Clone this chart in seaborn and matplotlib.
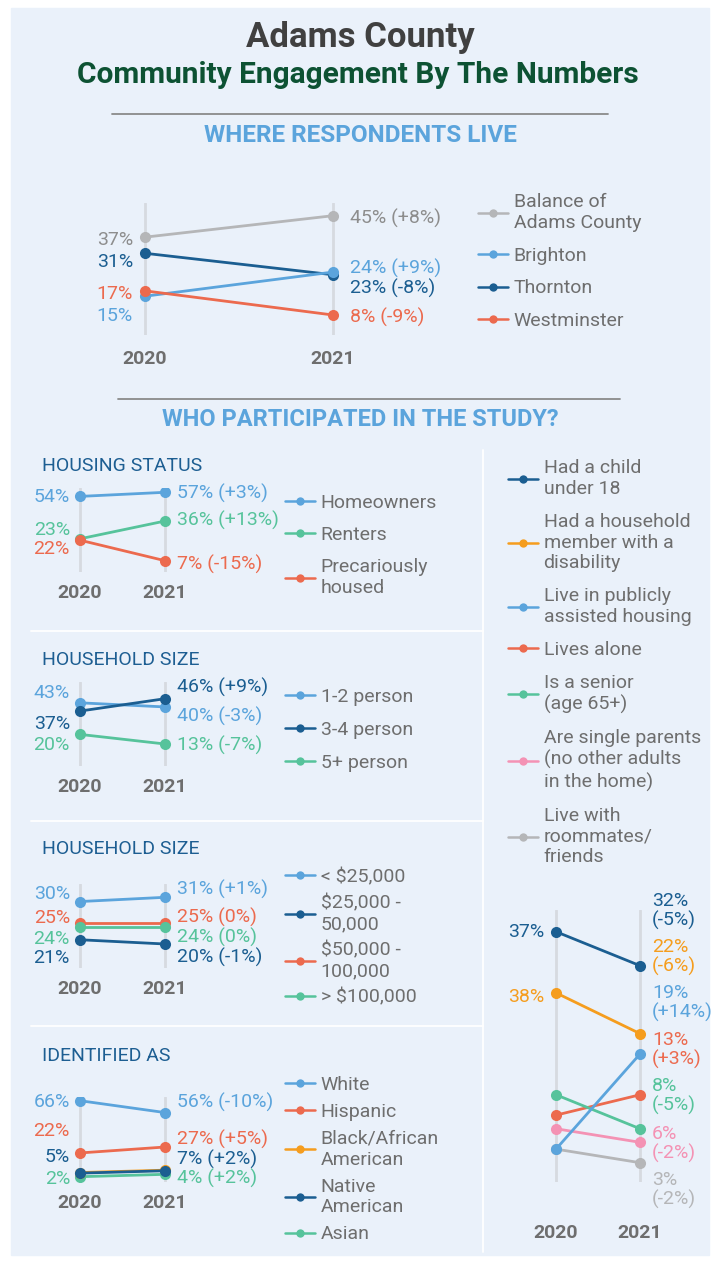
import matplotlib
matplotlib.use("Agg")
import matplotlib.pyplot as plt
from matplotlib.lines import Line2D
from matplotlib.patches import Rectangle
import seaborn as sns

YEARS = [2020, 2021]

live_groups = ["Balance of\nAdams County", "Brighton", "Thornton", "Westminster"]
live_2020 = [37, 15, 31, 17]
live_2021 = [45, 24, 23, 8]

housing_groups = ["Homeowners", "Renters", "Precariously\nhoused"]
housing_2020 = [54, 23, 22]
housing_2021 = [57, 36, 7]

size_groups = ["1-2 person", "3-4 person", "5+ person"]
size_2020 = [43, 37, 20]
size_2021 = [40, 46, 13]

income_groups = ["< $25,000", "$25,000 -\n50,000", "$50,000 -\n100,000", "> $100,000"]
income_2020 = [30, 21, 25, 24]
income_2021 = [31, 20, 25, 24]

ident_groups = ["White", "Hispanic", "Black/African\nAmerican", "Native\nAmerican", "Asian"]
ident_2020 = [66, 22, 5.5, 5, 2]      # Black/African American is unlabelled, estimated
ident_2021 = [56, 27, 7.5, 7, 4]

home_groups = ["Had a child\nunder 18", "Had a household\nmember with a\ndisability",
               "Live in publicly\nassisted housing", "Lives alone", "Is a senior\n(age 65+)",
               "Are single parents\n(no other adults\nin the home)", "Live with\nroommates/\nfriends"]
home_2020 = [37, 28, 5, 10, 13, 8, 5]
home_2021 = [32, 22, 19, 13, 8, 6, 3]
home_label_2020 = ["37%", "38%", None, None, None, None, None]  # as printed on the source

# ---- style ----
LIGHT = "#5BA4DC"
NAVY = "#1B5E91"
CORAL = "#EC6A4E"
GREEN = "#56C39B"
GRAY = "#B5B6B8"
ORANGE = "#F59D1E"
PINK = "#F492B4"
TXT = "#6E6E6E"
HEAD = "#1D5E92"
BG = "#EAF1FA"
FS = 14

W, H = 716, 1262
sns.set_theme(style="white")
plt.rcParams["font.family"] = ["Roboto", "DejaVu Sans"]

fig = plt.figure(figsize=(W / 100, H / 100), dpi=100)
fig.patch.set_facecolor("white")


def fx(x):
    return x / W


def fy(y):
    return 1 - y / H


def hline(y, x0, x1, color, lw):
    fig.add_artist(Line2D([fx(x0), fx(x1)], [fy(y), fy(y)], transform=fig.transFigure, color=color, lw=lw))


def pct(v):
    return f"{v:g}%"


def delta(a, b):
    d = b - a
    return "(0%)" if d == 0 else f"({d:+g}%)"


fig.add_artist(Rectangle((fx(11), fy(1255)), fx(709) - fx(11), fy(8) - fy(1255),
                         transform=fig.transFigure, color=BG, zorder=-10))


def draw_panel(box, x20, x21, ref_a, ref_b, v20, v21, colors, off20, off21,
               dx20, dx21, year_pad, order=None, label_colors=None,
               text20=None, two_line=False):
    l, t, r, b = box
    ax = fig.add_axes([fx(l), fy(b), fx(r) - fx(l), fy(t) - fy(b)])
    ax.set_facecolor("none")
    order = order if order is not None else range(len(v20))
    label_colors = label_colors or colors
    for k, i in enumerate(order):
        sns.lineplot(x=YEARS, y=[v20[i], v21[i]], color=colors[i], marker="o",
                     markersize=8, markeredgewidth=0, linewidth=2, ax=ax, zorder=3 + k)
    ppy = x21 - x20
    ax.set_xlim(2020 - (x20 - l) / ppy, 2021 + (r - x21) / ppy)
    (va, pa), (vb, pb) = ref_a, ref_b
    s = (pb - pa) / (va - vb)
    ax.set_ylim(va - (b - pa) / s, va + (pa - t) / s)
    ax.set_xticks(YEARS)
    ax.set_xticklabels([str(y) for y in YEARS], fontsize=14, fontweight="bold", color=TXT)
    ax.tick_params(axis="x", length=0, pad=year_pad)
    ax.set_yticks([])
    ax.set_xlabel("")
    ax.set_ylabel("")
    for sp in ax.spines.values():
        sp.set_visible(False)
    ax.grid(axis="x", color="#D6DAE0", linewidth=2)
    ax.set_axisbelow(True)
    for i in range(len(v20)):
        if off20[i] is not None:
            txt = text20[i] if text20 is not None else pct(v20[i])
            ax.annotate(txt, xy=(2020, v20[i]), xytext=(dx20, -off20[i]), textcoords="offset pixels",
                        ha="right", va="center", fontsize=FS, color=label_colors[i])
        if off21[i] is not None:
            sep = "\n" if two_line else " "
            ax.annotate(pct(v21[i]) + sep + delta(v20[i], v21[i]), xy=(2021, v21[i]),
                        xytext=(dx21, -off21[i]), textcoords="offset pixels",
                        ha="left", va="center", fontsize=FS, color=label_colors[i],
                        linespacing=1.1)
    return ax


def legend(groups, colors, x, y, spacing):
    handles = [Line2D([], [], color=c, marker="o", lw=1.8, markersize=6, markeredgewidth=0) for c in colors]
    fig.legend(handles, groups, loc="upper left", bbox_to_anchor=(fx(x), fy(y)),
               bbox_transform=fig.transFigure, frameon=False, fontsize=FS, labelcolor=TXT,
               handlelength=1.55, handletextpad=0.28, labelspacing=spacing,
               borderpad=0, borderaxespad=0)


# ---- headings ----
fig.text(fx(360), fy(37), "Adams County", ha="center", va="center", fontsize=25,
         fontweight="bold", color="#404040")
fig.text(fx(358), fy(75), "Community Engagement By The Numbers", ha="center", va="center",
         fontsize=21.5, fontweight="bold", color="#0D5233")
hline(114, 112, 608, "#8A8A8A", 1.3)
fig.text(fx(360), fy(135), "WHERE RESPONDENTS LIVE", ha="center", va="center", fontsize=17.5,
         fontweight="bold", color=LIGHT)
hline(399, 118, 620, "#8A8A8A", 1.3)
fig.text(fx(360), fy(420), "WHO PARTICIPATED IN THE STUDY?", ha="center", va="center", fontsize=17,
         fontweight="bold", color=LIGHT)

# white dividers
for yy in [631, 821, 1026]:
    hline(yy, 31, 483, "white", 1.3)
fig.add_artist(Line2D([fx(483), fx(483)], [fy(450), fy(1252)], transform=fig.transFigure,
                      color="white", lw=1.3))

# ---- where respondents live ----
live_colors = [GRAY, LIGHT, NAVY, CORAL]
draw_panel((100, 203, 380, 335), 145, 333, (45, 215.7), (8, 315), live_2020, live_2021,
           live_colors, [3, 20, 9, 3], [3, -4, 14, 2], -12, 17, 11,
           order=[0, 2, 1, 3], label_colors=["#8D8D8D", LIGHT, NAVY, CORAL])
legend(live_groups, live_colors, 478, 193, 0.76)

# ---- housing status ----
fig.text(fx(42), fy(466), "HOUSING STATUS", ha="left", va="center", fontsize=FS, color=HEAD)
housing_colors = [LIGHT, GREEN, CORAL]
draw_panel((35, 488, 210, 572), 80, 165, (57, 492.3), (7, 560.7), housing_2020, housing_2021,
           housing_colors, [1, -9, 9], [1, -1, 4], -10, 12, 8.8)
legend(housing_groups, housing_colors, 285, 494, 0.72)

# ---- household size ----
fig.text(fx(42), fy(660), "HOUSEHOLD SIZE", ha="left", va="center", fontsize=FS, color=HEAD)
size_colors = [LIGHT, NAVY, GREEN]
draw_panel((35, 682, 210, 766), 80, 165, (46, 698.7), (13, 744), size_2020, size_2021,
           size_colors, [-10, 13, 11], [9, -11, 1], -10, 12, 8.8)
legend(size_groups, size_colors, 285, 688, 0.76)

# ---- income (titled as on the source) ----
fig.text(fx(42), fy(849), "HOUSEHOLD SIZE", ha="left", va="center", fontsize=FS, color=HEAD)
income_colors = [LIGHT, NAVY, CORAL, GREEN]
draw_panel((35, 884, 210, 968), 80, 165, (31, 897.3), (20, 944), income_2020, income_2021,
           income_colors, [-8, 18, -4.5, 12], [-8, 13, -5.5, 10], -10, 12, 8.8)
legend(income_groups, income_colors, 285, 868, 0.42)

# ---- identified as ----
fig.text(fx(42), fy(1056), "IDENTIFIED AS", ha="left", va="center", fontsize=FS, color=HEAD)
ident_colors = [LIGHT, CORAL, ORANGE, NAVY, GREEN]
draw_panel((35, 1097, 210, 1182), 80, 165, (66, 1100.7), (2, 1176.7), ident_2020, ident_2021,
           ident_colors, [1, -22, None, -16, 2], [-10, -8, None, -11.5, 4], -10, 12, 8.8,
           order=[0, 1, 4, 2, 3])
legend(ident_groups, ident_colors, 285, 1076, 0.46)

# ---- household characteristics (right column) ----
home_colors = [NAVY, ORANGE, LIGHT, CORAL, GREEN, PINK, GRAY]
draw_panel((500, 910, 700, 1182), 556, 640, (37, 931.7), (3, 1162.7), home_2020, home_2021,
           home_colors, [0, 4, None, None, None, None, None],
           [-54.7, -76.6, -51.1, -44.8, -32.7, 1.7, 27.3], -12, 12, 30,
           order=[0, 1, 3, 4, 5, 6, 2], text20=home_label_2020, two_line=True)
legend(home_groups, home_colors, 508, 459, 0.77)

fig.savefig("out.png", dpi=100, facecolor="white")
